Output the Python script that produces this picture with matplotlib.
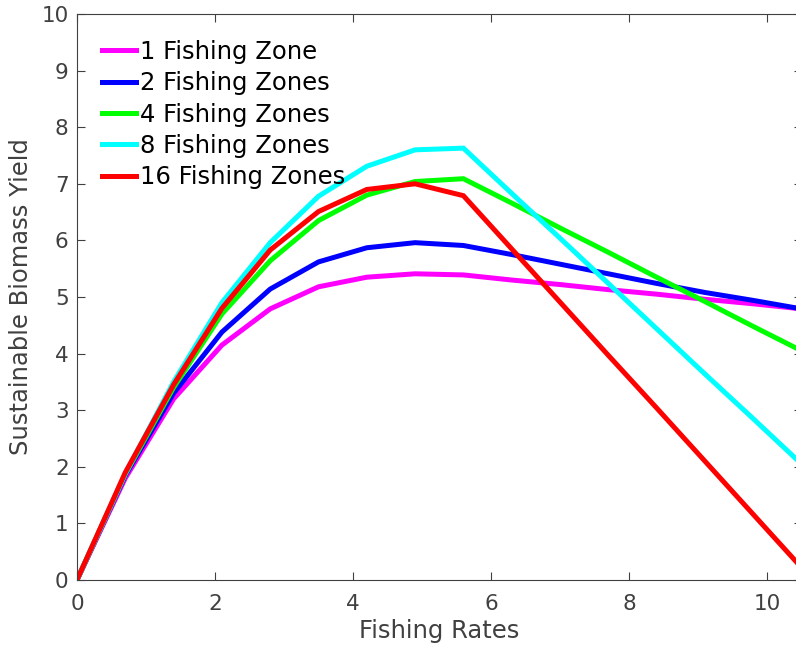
import numpy as np
import matplotlib.pyplot as plt

# fishing rate grid
rates = [0, 0.7, 1.4, 2.1, 2.8, 3.5, 4.2, 4.9, 5.6, 6.3, 7.0, 7.7, 8.4, 9.1, 9.8, 10.5]

# sustainable biomass yield for each zone count
zone1 = [0, 1.80, 3.20, 4.15, 4.79, 5.18, 5.35, 5.41, 5.39, 5.30, 5.22, 5.13, 5.05, 4.96, 4.88, 4.79]
zone2 = [0, 1.85, 3.30, 4.38, 5.14, 5.62, 5.87, 5.96, 5.91, 5.75, 5.58, 5.41, 5.24, 5.08, 4.94, 4.79]
zone4 = [0, 1.87, 3.40, 4.70, 5.64, 6.35, 6.80, 7.04, 7.09, 6.66, 6.22, 5.79, 5.35, 4.92, 4.48, 4.05]
zone8 = [0, 1.88, 3.50, 4.90, 5.96, 6.78, 7.31, 7.60, 7.63, 6.83, 6.04, 5.24, 4.44, 3.64, 2.85, 2.05]
zone16 = [0, 1.90, 3.45, 4.80, 5.83, 6.51, 6.90, 7.00, 6.79, 5.85, 4.91, 3.97, 3.04, 2.10, 1.16, 0.22]

labels = ['1 Fishing Zone', '2 Fishing Zones', '4 Fishing Zones', '8 Fishing Zones', '16 Fishing Zones']
colors = ['#ff00ff', '#0000ff', '#00ff00', '#00ffff', '#ff0000']

plt.rcParams['font.family'] = 'DejaVu Sans'

fig = plt.figure(figsize=(7.96, 6.47), dpi=100)
ax = fig.add_axes([77/796, 67/647, 724.5/796, 566/647])

for ys, lab, col in zip([zone1, zone2, zone4, zone8, zone16], labels, colors):
    ax.plot(rates, ys, '-', color=col, lw=3.6, label=lab, solid_joinstyle='miter')

ax.set_xlim(0, 10.5)
ax.set_ylim(0, 10)
ax.set_xticks([0, 2, 4, 6, 8, 10])
ax.set_yticks(range(0, 11))

gray = '#404040'
ax.tick_params(direction='in', length=6, width=0.8, top=True, right=True,
               labelsize=15.5, colors=gray)
ax.tick_params(axis='x', pad=10)
ax.tick_params(axis='y', pad=6)
for s in ax.spines.values():
    s.set_color(gray)
    s.set_linewidth(0.8)

ax.set_xlabel('Fishing Rates', fontsize=17.5, color=gray, labelpad=4)
ax.set_ylabel('Sustainable Biomass Yield', fontsize=17.5, color=gray, labelpad=6)

ax.legend(loc='upper left', frameon=False, fontsize=17.5, handlelength=1.4,
          handletextpad=0.17, labelspacing=0.3, borderpad=0, borderaxespad=0,
          bbox_to_anchor=(25/724.5, 1 - 26/566))

fig.savefig('out.png', dpi=100)
